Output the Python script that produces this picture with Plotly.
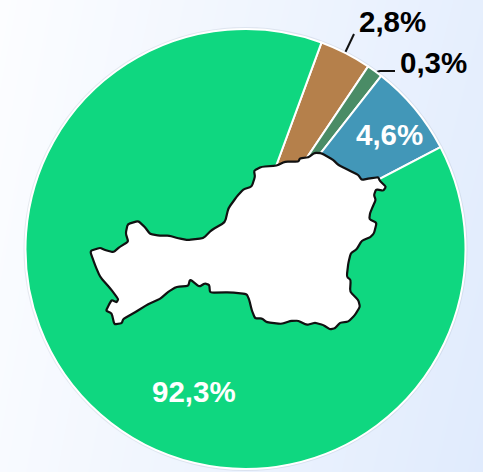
import plotly.graph_objects as go

W, H = 483, 472
values = [3.8, 1.17, 6.75, 88.28]
colors = ["#b5804b", "#4a8c66", "#4297b8", "#0fd780"]
labels = ["2,8%", "0,3%", "4,6%", "92,3%"]
label_x = [392, 433, 389, 194]
label_y = [21, 62, 134, 391]
label_colors = ["#000000", "#000000", "#ffffff", "#ffffff"]
leader_x = [[344, 354], [373, 380, 395]]
leader_y = [[55, 34], [73, 71, 71]]
region_x = [90, 100, 105, 113.3, 120, 128.3, 125.7, 127.7, 138.3, 145, 150, 160, 169.3, 178.3, 187.3, 203.3, 211.7,
            225, 228.3, 236.7, 243.3, 251.7, 255, 254, 261.7, 276.7, 285, 298.3, 300, 308.3, 315, 321.7, 333.3, 338.3,
            350, 358.3, 361.7, 370, 378.3, 380, 386, 383.3, 376, 374, 375.7, 372.7, 370, 369.3, 376.7, 374, 370, 361.7,
            356.7, 350.7, 348.3, 346.7, 350.7, 350, 358.3, 360, 355, 348.3, 340, 335, 330, 323.3, 315, 306.7, 298.3,
            290, 281.7, 266.7, 261.7, 255, 251.7, 249.3, 246.7, 230, 210, 209.3, 205, 199.3, 190, 188.3, 176.7, 168.3,
            160, 148.3, 135, 123.3, 121.7, 114.3, 111.7, 106, 109.3, 111.7, 116.7, 118.3, 110.7, 100, 95]
region_y = [251, 247.7, 250, 252.3, 246.7, 241.7, 233.3, 224, 221, 227.3, 234, 235.7, 235.7, 238.3, 240, 238.3, 230,
            222.3, 208.3, 196.7, 189.3, 186.7, 176.7, 170.7, 166.7, 165.7, 161.7, 161.7, 158.3, 157.3, 152.7, 153.3, 160, 165,
            170.7, 175, 180, 178.3, 177.3, 181, 186.7, 190.7, 189.3, 195, 200, 206.7, 213.3, 219.3, 222.7, 233.3, 237.3, 240.7,
            249.3, 253.3, 263.3, 276.7, 280, 291.7, 300, 306.7, 315, 321.7, 322.7, 328.3, 329.3, 325, 322.7, 325, 320.7,
            321, 324, 322.3, 318.3, 318.3, 310, 300, 294, 292.3, 292.7, 285, 283.3, 286.7, 279.3, 286, 286.7, 291.7,
            299, 304, 312.3, 319, 323.3, 324.3, 313.3, 310.7, 304, 300, 302.3, 299, 289, 276.7, 265]
bg_x = [0, 483]
bg_y = [0, 472]
bg_z = [[0.0, 0.8], [0.15, 1.0]]


def rounded_path(xs, ys, cut=0.22):
    n = len(xs)
    parts = []
    for i in range(n):
        px, py = xs[i - 1], ys[i - 1]
        cx, cy = xs[i], ys[i]
        nx, ny = xs[(i + 1) % n], ys[(i + 1) % n]
        ax, ay = cx + (px - cx) * cut, cy + (py - cy) * cut
        bx, by = cx + (nx - cx) * cut, cy + (ny - cy) * cut
        parts.append(f"{'M' if i == 0 else 'L'} {ax:.2f},{ay:.2f} Q {cx},{cy} {bx:.2f},{by:.2f}")
    return " ".join(parts) + " Z"


fig = go.Figure()
fig.add_trace(go.Heatmap(x=bg_x, y=bg_y, z=bg_z, zsmooth="best", showscale=False, hoverinfo="skip",
                         colorscale=[[0, "#fcfdff"], [1, "#e0ebfd"]]))
for xs, ys in zip(leader_x, leader_y):
    fig.add_trace(go.Scatter(x=xs, y=ys, mode="lines", line=dict(color="#111111", width=2),
                             hoverinfo="skip", showlegend=False))
fig.add_trace(go.Pie(values=[1], sort=False, textinfo="none", showlegend=False, hoverinfo="skip",
                     marker=dict(colors=["rgba(90,105,130,0.12)"], line=dict(width=0)),
                     domain=dict(x=[23.5 / W, 467.5 / W], y=[1 - 471 / H, 1 - 27 / H])))
fig.add_trace(go.Pie(values=values, sort=False, direction="clockwise", rotation=20.2,
                     marker=dict(colors=colors, line=dict(color="#ffffff", width=2)),
                     textinfo="none", showlegend=False,
                     domain=dict(x=[25.5 / W, 465.5 / W], y=[1 - 469 / H, 1 - 29 / H])))
fig.add_shape(type="path", path=rounded_path(region_x, region_y), xref="x", yref="y", layer="above",
              fillcolor="#ffffff", line=dict(color="#111111", width=2.2))
for t, x, y, c in zip(labels, label_x, label_y, label_colors):
    fig.add_annotation(x=x, y=y, text=f"<b>{t}</b>", showarrow=False, xref="x", yref="y",
                       font=dict(family="Liberation Sans", size=29.5, color=c))
fig.update_layout(width=W, height=H, margin=dict(l=0, r=0, t=0, b=0), autosize=False,
                  paper_bgcolor="#f4f8fe", plot_bgcolor="rgba(0,0,0,0)",
                  xaxis=dict(range=[0, W], visible=False, domain=[0, 1]),
                  yaxis=dict(range=[H, 0], visible=False, domain=[0, 1]))
fig.write_html("out.html", config=dict(displayModeBar=False),
               post_script="document.body.style.margin='0';document.body.style.overflow='hidden';")
